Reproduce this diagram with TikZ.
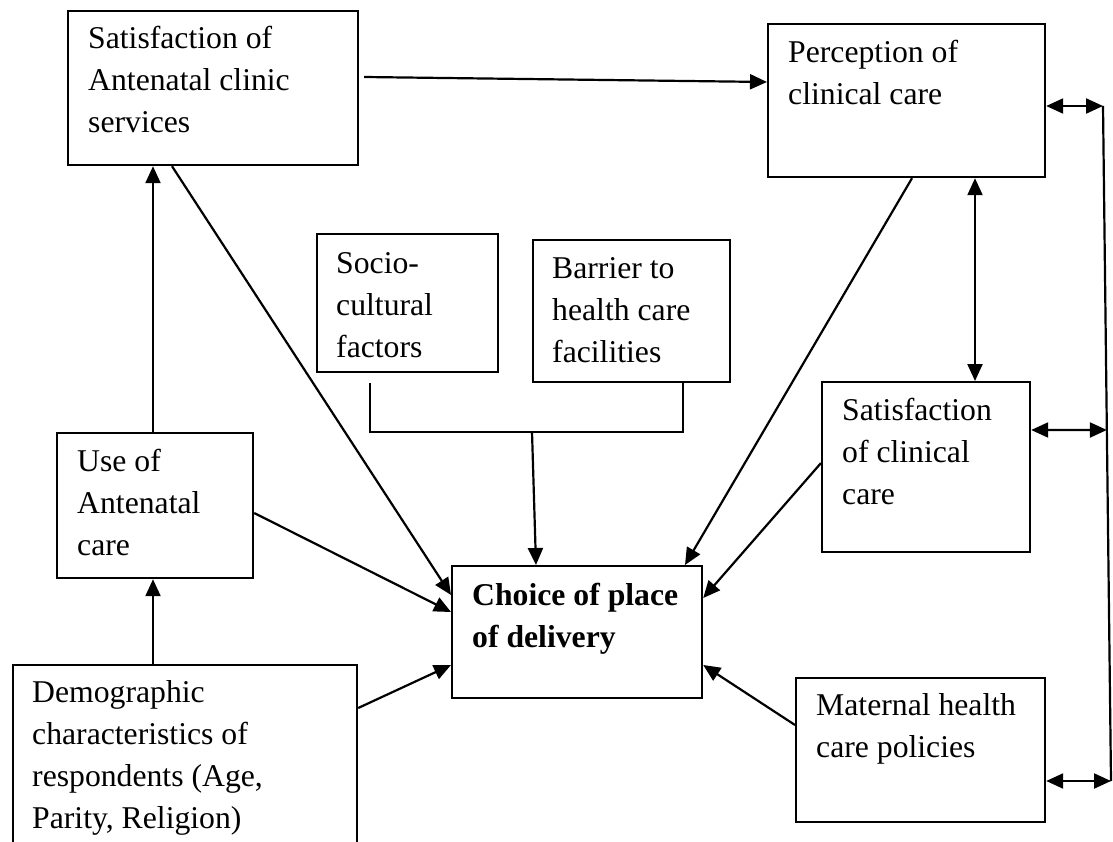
\documentclass[tikz,border=0pt]{standalone}
\usepackage{fontspec}
\setmainfont{Liberation Serif}
\usetikzlibrary{arrows.meta,calc}
\begin{document}
\begin{tikzpicture}[x=1pt,y=-1pt,
  box/.style={draw,line width=2.2pt,inner sep=0pt,anchor=north west},
  lbl/.style={anchor=base west,align=left,inner sep=0pt,font=\fontsize{31.7}{42}\selectfont},
  conn/.style={line width=2.2pt},
  arr/.style={conn,-{Triangle[length=17pt,width=15pt]}},
  dbl/.style={conn,{Triangle[length=17pt,width=15pt]}-{Triangle[length=17pt,width=15pt]}}]
\useasboundingbox (0,0) rectangle (1113,842);
\clip (0,0) rectangle (1113,842);
\fill[white] (0,0) rectangle (1113,842);

% boxes
\node[box,minimum width=290pt,minimum height=154pt] (sanc) at (67,10) {};
\node[box,minimum width=277pt,minimum height=153pt] (perc) at (767,23) {};
\node[box,minimum width=181pt,minimum height=138pt] (soc) at (316,233) {};
\node[box,minimum width=197pt,minimum height=142pt] (bar) at (532,239) {};
\node[box,minimum width=208pt,minimum height=170pt] (scc) at (821,381) {};
\node[box,minimum width=196pt,minimum height=145pt] (uanc) at (56,432) {};
\node[box,minimum width=250pt,minimum height=132pt] (choice) at (451,565) {};
\node[box,minimum width=249pt,minimum height=144pt] (mat) at (795,677) {};
\node[box,minimum width=344pt,minimum height=250pt] (demo) at (12,664) {};

% labels (anchored at the baseline of their last line)
\node[lbl] (tsanc) at (88,133) {Satisfaction of\\Antenatal clinic\\services};
\node[lbl] (tperc) at (788,105) {Perception of\\clinical care};
\node[lbl] (tsoc) at (336,357) {Socio-\\cultural\\factors};
\node[lbl] (tbar) at (552,362) {Barrier to\\health care\\facilities};
\node[lbl] (tscc) at (842,504) {Satisfaction\\of clinical\\care};
\node[lbl] (tuanc) at (77,555) {Use of\\Antenatal\\care};
\node[lbl,font=\fontsize{31.7}{42}\selectfont\bfseries] (tchoice) at (472,647) {Choice of place\\of delivery};
\node[lbl] (tmat) at (816,757) {Maternal health\\care policies};
\node[lbl] (tdemo) at (32,828) {Demographic\\characteristics of\\respondents (Age,\\Parity, Religion)};

% coordinates
\coordinate (bl) at (370,432);
\coordinate (br) at (683,432);
\coordinate (bm) at (532,432);
\coordinate (vt) at (1103,106);
\coordinate (vb) at (1111,781);

% connectors
\draw[arr] ($(sanc.east |- 0,77)+(5,0)$) -- (perc.west |- 0,82);
\draw[arr] (uanc.north -| 153,0) -- (sanc.south -| 153,0);
\draw[arr] (demo.north -| 153,0) -- (uanc.south -| 153,0);
\draw[arr] (sanc.south -| 172,0) -- (choice.west |- 0,595);
\draw[arr] (uanc.east |- 0,513) -- (choice.west |- 0,612);
\draw[arr] (demo.east |- 0,708) -- (choice.west |- 0,665);
\draw[conn] ($(soc.south -| bl)+(0,10)$) -- (bl) -- (br) -- (bar.south -| br);
\draw[arr] (bm) -- (choice.north -| 536,0);
\draw[arr] (perc.south -| 912,0) -- (choice.north -| 685,0);
\draw[dbl] (perc.south -| 975,0) -- (scc.north -| 975,0);
\draw[arr] (scc.west |- 0,463) -- (choice.east |- 0,598);
\draw[arr] (mat.west |- 0,725) -- (choice.east |- 0,665);
\draw[conn] (vt) -- (vb);
\draw[dbl] (perc.east |- vt) -- (vt);
\draw[dbl] (scc.east |- 0,430) -- ($(vt)!0.48!(vb)$);
\draw[dbl] (mat.east |- vb) -- (vb);
\end{tikzpicture}
\end{document}
